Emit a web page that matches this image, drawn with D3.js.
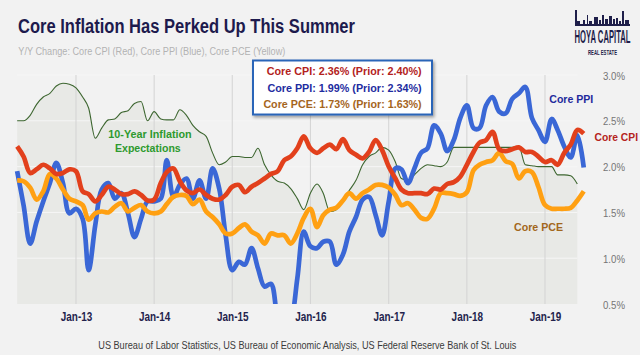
<!DOCTYPE html>
<html><head><meta charset="utf-8">
<script src="https://cdn.jsdelivr.net/npm/d3@7"></script>
<style>html,body{margin:0;padding:0;background:#f2f2f2;overflow:hidden}svg{display:block}</style>
</head><body>
<svg id="chart" width="640" height="355"></svg>
<script>
// ---------- data (monthly, Apr 2012 .. Jul 2019) ----------
const months = d3.timeMonth.range(new Date(2012, 3, 1), new Date(2019, 7, 1));
const coreCPI = [2.22,2.11,1.93,1.97,2.02,1.98,1.92,1.93,1.97,1.95,
  1.73,1.70,1.62,1.69,1.78,1.75,1.70,1.70,1.73,1.69,
  1.63,1.64,1.82,1.94,1.98,1.84,1.74,1.71,1.75,1.69,
  1.65,1.64,1.69,1.78,1.80,1.72,1.78,1.82,1.87,1.92,
  1.95,2.07,2.11,2.20,2.33,2.20,2.15,2.20,2.24,2.19,
  2.30,2.18,2.13,2.09,2.16,2.29,2.18,2.00,1.87,1.75,
  1.71,1.71,1.71,1.70,1.76,1.75,1.81,1.83,1.89,2.02,
  2.16,2.26,2.29,2.38,2.19,2.17,2.19,2.21,2.16,2.16,
  2.11,2.05,2.07,2.02,2.15,2.24,2.40,2.36];
const corePPI = [1.95,1.58,1.16,1.40,1.62,1.82,2.04,1.82,1.49,1.54,
  1.43,0.87,1.36,1.75,1.82,1.65,1.71,1.49,1.23,1.43,
  1.62,1.62,1.65,2.07,1.67,1.80,1.87,1.65,1.85,1.65,
  1.98,1.76,1.25,0.87,0.96,0.93,1.11,0.89,0.69,0.72,
  0.35,0.20,0.30,0.78,1.29,1.13,1.11,1.18,1.18,0.93,
  1.04,1.29,1.45,1.64,1.67,1.47,1.25,1.62,1.98,1.97,
  1.82,1.98,2.15,2.20,2.45,2.36,2.17,2.29,2.53,2.67,
  2.42,2.42,2.67,2.76,2.60,2.58,2.74,2.80,2.87,2.53,
  2.40,2.27,2.52,2.40,2.22,2.10,2.34,1.99];
const corePCE = [1.85,1.84,1.77,1.64,1.73,1.92,1.87,1.75,1.65,1.62,
  1.58,1.42,1.49,1.51,1.50,1.56,1.60,1.51,1.55,1.58,
  1.51,1.49,1.51,1.59,1.67,1.69,1.68,1.59,1.64,1.51,
  1.45,1.37,1.27,1.27,1.33,1.37,1.29,1.25,1.16,1.27,
  1.25,1.25,1.16,1.27,1.44,1.54,1.34,1.47,1.53,1.55,
  1.63,1.71,1.65,1.71,1.75,1.80,1.80,1.77,1.69,1.58,
  1.60,1.53,1.44,1.43,1.54,1.71,1.71,1.70,1.68,1.72,
  1.96,2.02,2.05,2.07,2.15,2.06,2.03,1.87,1.95,1.94,
  1.78,1.58,1.54,1.54,1.54,1.55,1.63,1.73];
const inflationExp = [2.50,2.50,2.56,2.68,2.76,2.80,2.88,2.91,2.90,2.86,
  2.76,2.64,2.31,2.42,2.51,2.52,2.59,2.61,2.69,2.71,
  2.50,2.60,2.52,2.51,2.51,2.62,2.56,2.45,2.38,2.33,
  2.15,2.02,2.05,2.11,2.11,2.10,2.10,2.20,2.02,1.91,
  1.84,1.82,1.76,1.65,1.53,1.71,1.81,1.71,1.51,1.53,
  1.64,1.74,1.85,2.02,2.11,2.15,2.21,2.18,2.05,1.87,
  1.85,1.91,1.98,2.02,2.01,2.00,2.05,2.21,2.21,2.21,
  2.21,2.21,2.21,2.21,2.21,2.21,2.21,2.22,2.02,2.01,
  2.00,2.00,2.00,1.91,1.91,1.90,1.81];
const yTicks = [0.5, 1.0, 1.5, 2.0, 2.5, 3.0];
const xTickYears = [2013, 2014, 2015, 2016, 2017, 2018, 2019];
const legendLines = [
  "Core CPI: 2.36% (Prior: 2.40%)",
  "Core PPI: 1.99% (Prior: 2.34%)",
  "Core PCE: 1.73% (Prior: 1.63%)"];
const skyline = [[0,2,14],[2,3,3],[8,2,4],[12,1,9],[14,3,3],[19,4,7],[24,2,4],[27,2,9],[30,3,5],[34,3,8],[38,2,5],[41,2,6],[44,2,3],[47,2,13],[50,4,4]];

// ---------- setup ----------
const W = 640, H = 355;
const FONT = '"Liberation Sans Narrow","Arial Narrow","Liberation Sans",Arial,sans-serif';
const svg = d3.select("#chart").attr("font-family", FONT);
svg.append("rect").attr("width", W).attr("height", H).attr("fill", "#f2f2f2");

const x = d3.scaleTime().domain([new Date(2013,0,1), new Date(2019,0,1)]).range([76, 545]);
const y = d3.scaleLinear().domain([0.5, 3.0]).range([304, 75]);

const defs = svg.append("defs");
defs.append("clipPath").attr("id","clip").append("rect").attr("x",0).attr("y",60).attr("width",W).attr("height",244);
const f = defs.append("filter").attr("id","shadow").attr("x","-10%").attr("y","-20%").attr("width","130%").attr("height","160%");
f.append("feDropShadow").attr("dx",1.5).attr("dy",2).attr("stdDeviation",1.5).attr("flood-color","#000").attr("flood-opacity",0.35);

// ---------- area (10-year inflation expectations) ----------
const expData = inflationExp.map((v,i)=>({d: months[i], v}));
svg.append("path").datum(expData)
  .attr("d", d3.area().x(d=>x(d.d)).y0(y(0.5)).y1(d=>y(d.v)).curve(d3.curveMonotoneX))
  .attr("fill", "#e8e9e6");

// grid
const x0 = x(months[0]), x1 = x(months[inflationExp.length-1]);
svg.append("g").selectAll("line").data(yTicks.filter(t=>t>0.5)).join("line")
  .attr("x1", x0).attr("x2", x1).attr("y1", d=>y(d)).attr("y2", d=>y(d))
  .attr("stroke", "#f6f6f6").attr("stroke-width", 1);
svg.append("g").selectAll("line").data(xTickYears).join("line")
  .attr("x1", d=>x(new Date(d,0,1))).attr("x2", d=>x(new Date(d,0,1)))
  .attr("y1", y(3.0)).attr("y2", y(0.5))
  .attr("stroke", "#d3d3d3").attr("stroke-width", 1);

svg.append("path").datum(expData)
  .attr("d", d3.line().x(d=>x(d.d)).y(d=>y(d.v)).curve(d3.curveMonotoneX))
  .attr("fill", "none").attr("stroke", "#3d6630").attr("stroke-width", 1.1);

// ---------- lines ----------
const lineGen = d3.line().x(d=>x(d.d)).y(d=>y(d.v)).curve(d3.curveCatmullRom.alpha(0.5));
const series = [
  {vals: corePPI, color: "#3a67d6"},
  {vals: corePCE, color: "#ffa012"},
  {vals: coreCPI, color: "#e2401c"}];
const lg = svg.append("g").attr("clip-path", "url(#clip)");
series.forEach(s => {
  lg.append("path").datum(s.vals.map((v,i)=>({d: months[i], v})))
    .attr("d", lineGen).attr("fill","none").attr("stroke", s.color)
    .attr("stroke-width", 4.7).attr("stroke-linejoin","round").attr("stroke-linecap","butt");
});

// ---------- axes ----------
const yAxis = svg.append("g").attr("transform", "translate(577,0)")
  .call(d3.axisRight(y).tickValues(yTicks).tickSize(0).tickFormat(d=>d.toFixed(1)+"%"));
yAxis.select(".domain").remove();
yAxis.selectAll("text").attr("x", 48).attr("dy", "0.36em").attr("text-anchor","end")
  .attr("fill","#757575").attr("font-size", 11.5).attr("font-family", FONT)
  .attr("textLength", 22).attr("lengthAdjust","spacingAndGlyphs");

const xAxis = svg.append("g").attr("transform", "translate(0,304)")
  .call(d3.axisBottom(x).tickValues(xTickYears.map(yr=>new Date(yr,0,1))).tickSize(0).tickFormat(d3.timeFormat("Jan-%y")));
xAxis.select(".domain").remove();
xAxis.selectAll("text").attr("y", 16.5).attr("dy", 0)
  .attr("fill","#23234c").attr("font-size", 12.5).attr("font-weight","bold").attr("font-family", FONT)
  .attr("textLength", 31.5).attr("lengthAdjust","spacingAndGlyphs");

// ---------- texts ----------
function txt(s, xx, yy, size, color, opts={}) {
  const t = svg.append("text").attr("x", xx).attr("y", yy).attr("font-size", size)
    .attr("fill", color).text(s);
  if (opts.bold) t.attr("font-weight", "bold");
  if (opts.anchor) t.attr("text-anchor", opts.anchor);
  if (opts.len) t.attr("textLength", opts.len).attr("lengthAdjust", "spacingAndGlyphs");
  return t;
}
// fitted text: scales horizontally via transform so the box is exactly 'len' wide, right edge at xr
function fitRight(s, xr, yy, size, color, len) {
  const t = svg.append("text").attr("font-size", size).attr("font-weight","bold")
    .attr("fill", color).attr("text-anchor","end").text(s);
  const nat = t.node().getComputedTextLength() || len;
  t.attr("transform", `translate(${xr},${yy}) scale(${len/nat},1)`);
  return t;
}
txt("Core Inflation Has Perked Up This Summer", 18, 33.3, 19.5, "#1d1a4d", {bold:true, len:337});
txt("Y/Y Change: Core CPI (Red), Core PPI (Blue), Core PCE (Yellow)", 18.3, 54.5, 10, "#b3b3b3", {len:267});
txt("US Bureau of Labor Statistics, US Bureau of Economic Analysis, US Federal Reserve Bank of St. Louis", 98.3, 348.5, 11, "#3a3a3a", {len:418});

// plot labels
txt("Core PPI", 549.3, 103.3, 11.5, "#1f2b9c", {bold:true, len:44});
fitRight("Core CPI", 638, 140.7, 11.5, "#b5231b", 43.5);
txt("Core PCE", 514, 231, 11.5, "#a2671c", {bold:true, len:49});
txt("10-Year Inflation", 108.3, 138, 11.5, "#2e9a2e", {bold:true, len:83.4});
txt("Expectations", 115, 151.5, 11.5, "#2e9a2e", {bold:true, len:65.7});

// legend box
svg.append("rect").attr("x", 253).attr("y", 60.5).attr("width", 179).attr("height", 54)
  .attr("fill", "#ffffff").attr("stroke", "#2c65b8").attr("stroke-width", 2).attr("filter","url(#shadow)");
const legendColors = ["#b3221c", "#1e2ca0", "#a5651d"];
const legendLens = [155, 154.3, 158.3];
const legendBase = [75.2, 91.7, 107.8];
legendLines.forEach((s,i)=>{
  txt(s, 421.7, legendBase[i], 10.8, legendColors[i], {bold:true, anchor:"end", len:legendLens[i]});
});

// logo
const logo = svg.append("g");
logo.append("rect").attr("x", 575).attr("y", 24).attr("width", 55).attr("height", 2).attr("fill", "#1f1f4a");
logo.selectAll("rect.b").data(skyline).join("rect").attr("class","b")
  .attr("x", d=>575+d[0]).attr("width", d=>d[1]).attr("y", d=>24-d[2]).attr("height", d=>d[2])
  .attr("fill", "#1f1f4a");
fitRight("HOYA CAPITAL", 630.5, 42.5, 19, "#1f1f4a", 56);
fitRight("REAL ESTATE", 617, 55, 7, "#1f1f4a", 29);
</script>
</body></html>
